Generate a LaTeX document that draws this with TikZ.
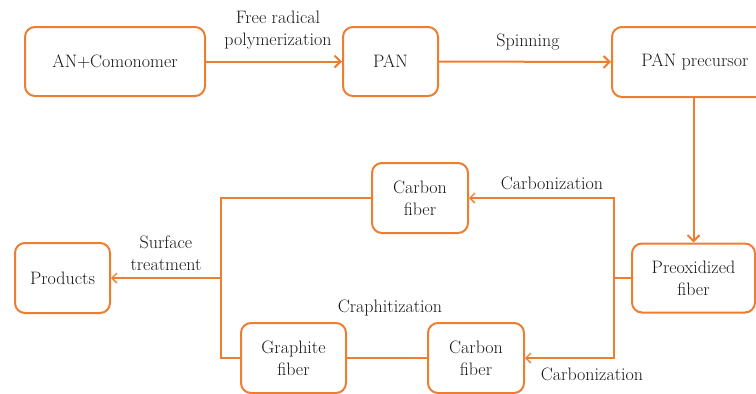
\documentclass[tikz,border=0pt]{standalone}
\usepackage{tikz}
\usetikzlibrary{arrows.meta}
\definecolor{laranja}{RGB}{237,125,49}
\definecolor{texto}{RGB}{25,25,25}

\begin{document}
\begin{tikzpicture}[x=1pt, y=-1pt, font=\fontsize{18}{22}\selectfont, text=texto]
\tikzstyle{caixa}=[rectangle, rounded corners=10pt, draw=laranja, line width=2pt, fill=white, align=center, inner sep=0pt]
\tikzstyle{seta}=[draw=laranja, line width=2pt, -{Straight Barb[length=6pt, width=12pt]}]
\tikzstyle{fina}=[draw=laranja, line width=1.4pt]
\tikzstyle{setafina}=[fina, -{Straight Barb[length=5pt, width=10pt]}]
\tikzstyle{rotulo}=[align=center, inner sep=0pt]
\useasboundingbox (0,0) rectangle (756,394);
 \node[caixa, minimum width=180pt, minimum height=69pt] (an) at (115,61.5) {AN+Comonomer};
 \node[caixa, minimum width=95pt, minimum height=69pt] (pan) at (390.5,61.5) {PAN};
 \node[caixa, minimum width=166pt, minimum height=70pt] (prec) at (695,62) {PAN precursor};
 \node[caixa, minimum width=123pt, minimum height=69pt] (preox) at (693.5,278) {Preoxidized\\fiber};
 \node[caixa, minimum width=96pt, minimum height=70pt] (cf1) at (420,198) {Carbon\\fiber};
 \node[caixa, minimum width=96pt, minimum height=70pt] (cf2) at (476,358) {Carbon\\fiber};
 \node[caixa, minimum width=105pt, minimum height=70pt] (gf) at (293.5,358) {Graphite\\fiber};
 \node[caixa, minimum width=95pt, minimum height=70pt] (prod) at (62.5,278) {Products};
 \coordinate (jd) at (614,278);
 \coordinate (je) at (221,278);
 % main line
 \draw[seta] (an.east) -- (pan.west);
 \draw[seta] (pan.east) -- (prec.west);
 \draw[seta] (preox.north |- prec.south) -- (preox.north);
 % carbonization branches
 \draw[fina] (preox.west) -- (jd);
 \draw[setafina] (jd) |- (cf1.east);
 \draw[setafina] (jd) |- (cf2.east);
 \draw[fina] (cf2.west) -- (gf.east);
 % surface treatment
 \draw[fina] (cf1.west) -| (je);
 \draw[fina] (gf.west) -| (je);
 \draw[setafina] (je) -- (prod.east);
 % labels
 \node[rotulo] (l1) at (278,30) {Free radical\\polymerization};
 \node[rotulo] (l2) at (528,42) {Spinning};
 \node[rotulo] (l3) at (552,183) {Carbonization};
 \node[rotulo] (l4) at (592,374) {Carbonization};
 \node[rotulo] (l5) at (390,308) {Craphitization};
 \node[rotulo] (l6) at (166,253) {Surface\\treatment};
\end{tikzpicture}
\end{document}
